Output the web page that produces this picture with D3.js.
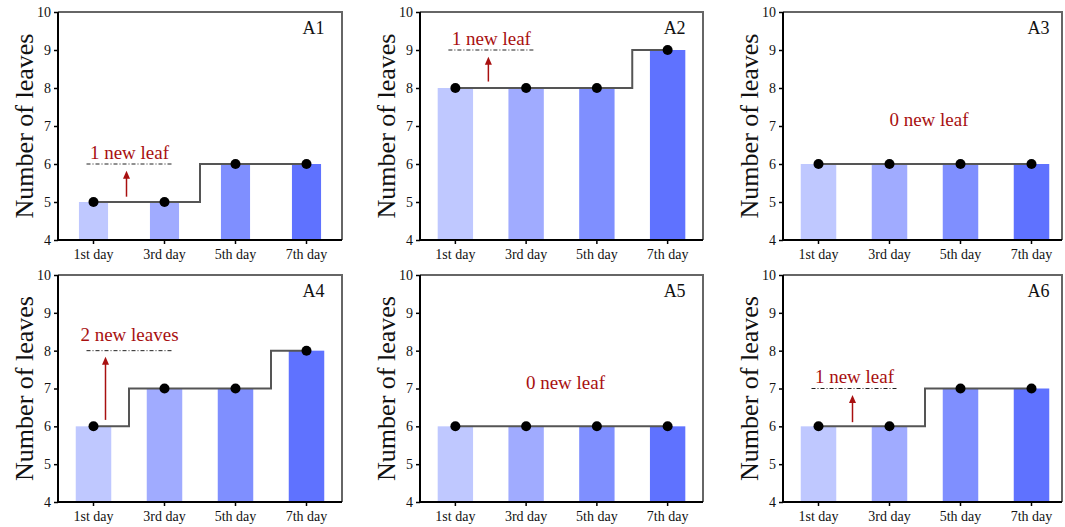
<!DOCTYPE html>
<html lang="en">
<head>
    <meta charset="UTF-8">
    <title>Number of leaves, A1-A6</title>
    <script src="https://d3js.org/d3.v7.min.js"></script>
    <style>
        body { margin: 0; background: #fff; }
        svg { display: block; font-family: "Liberation Serif", "Times New Roman", serif; }
        .tick text { font-size: 14px; fill: #111; font-family: "Liberation Serif", "Times New Roman", serif; }
    </style>
</head>
<body>
    <svg id="chart" width="1065" height="527"></svg>

    <script>
        // ---- data ----
        const days = ["1st day", "3rd day", "5th day", "7th day"];
        const panelNames = ["A1", "A2", "A3", "A4", "A5", "A6"];
        const leavesA1 = [5, 5, 6, 6];
        const leavesA2 = [8, 8, 8, 9];
        const leavesA3 = [6, 6, 6, 6];
        const leavesA4 = [6, 7, 7, 8];
        const leavesA5 = [6, 6, 6, 6];
        const leavesA6 = [6, 6, 7, 7];
        const leaves = [leavesA1, leavesA2, leavesA3, leavesA4, leavesA5, leavesA6];
        const notes = ["1 new leaf", "1 new leaf", "0 new leaf", "2 new leaves", "0 new leaf", "1 new leaf"];
        // arrow start / end in leaf units (null = no arrow)
        const arrowFrom = [5.14, 8.17, null, 6.17, null, 6.11];
        const arrowTo = [5.82, 8.82, null, 7.84, null, 6.83];
        const yTicks = [4, 5, 6, 7, 8, 9, 10];
        const barColors = ["#bfc8ff", "#a0abff", "#7f8fff", "#5f72ff"];

        // ---- layout ----
        const colLeft = [58, 420, 783];
        const colWidth = [284, 283, 284];
        const frameWidth = [284, 283, 279];
        const rowTop = [12, 275];
        const rowHeight = [228, 227];
        const barFrac = [0.41, 0.5, 0.5, 0.5, 0.5, 0.5];
        const arrowDx = [33, 33, 0, 12, 0, 34];
        const noteGap = [5, 5, 0, 10, 0, 6];
        const red = "#a81010";

        const svg = d3.select("#chart");

        panelNames.forEach((name, i) => {
            const col = i % 3, row = Math.floor(i / 3);
            const w = colWidth[col], h = rowHeight[row], fw = frameWidth[col];
            const g = svg.append("g").attr("transform", `translate(${colLeft[col]},${rowTop[row]})`);

            const x = d3.scaleBand().domain(days).range([0, w]).padding(0);
            const y = d3.scaleLinear().domain([4, 10]).range([h, 0]);
            const bw = x.bandwidth() * barFrac[i];
            const cx = d => x(d) + x.bandwidth() / 2;
            const vals = days.map((d, k) => ({ day: d, v: leaves[i][k], c: barColors[k] }));

            // bars
            g.selectAll(".bar").data(vals).join("rect")
                .attr("x", d => cx(d.day) - bw / 2)
                .attr("y", d => y(d.v))
                .attr("width", bw)
                .attr("height", d => h - y(d.v))
                .attr("fill", d => d.c);

            // top/right frame
            g.append("path")
                .attr("d", `M0,0H${fw}V${h}`)
                .attr("fill", "none").attr("stroke", "#666").attr("stroke-width", 2);

            // axes
            const yAxis = g.append("g")
                .call(d3.axisLeft(y).tickValues(yTicks).tickFormat(d3.format("d"))
                    .tickSize(4).tickSizeOuter(0).tickPadding(3));
            const xAxis = g.append("g").attr("transform", `translate(0,${h})`)
                .call(d3.axisBottom(x).tickSize(4).tickSizeOuter(0).tickPadding(5));
            [yAxis, xAxis].forEach(a => {
                a.attr("font-family", null).attr("font-size", null);
                a.select(".domain").attr("stroke", "#000").attr("stroke-width", 2);
                a.selectAll(".tick line").attr("stroke", "#000").attr("stroke-width", 1.5);
            });
            xAxis.select(".domain").attr("d", `M0,0H${fw}`);
            yAxis.select(".domain").attr("d", `M0,0V${h + 1}`);

            // step line
            const line = d3.line().x(d => cx(d.day)).y(d => y(d.v)).curve(d3.curveStep);
            g.append("path").datum(vals)
                .attr("d", line)
                .attr("fill", "none").attr("stroke", "#555").attr("stroke-width", 2);

            // dots
            g.selectAll(".dot").data(vals).join("circle")
                .attr("cx", d => cx(d.day))
                .attr("cy", d => y(d.v))
                .attr("r", 5)
                .attr("fill", "#000");

            // panel label
            g.append("text")
                .attr("x", cx(days[3]) + 18)
                .attr("y", 22)
                .attr("text-anchor", "end")
                .attr("font-size", 18)
                .attr("fill", "#111")
                .text(name);

            // y axis title
            g.append("text")
                .attr("transform", `translate(-25,${h / 2}) rotate(-90)`)
                .attr("text-anchor", "middle")
                .attr("font-size", 26)
                .attr("fill", "#111")
                .text("Number of leaves");

            // annotation
            const last = leaves[i][3];
            const first = leaves[i][0];
            if (last === first) {
                g.append("text")
                    .attr("x", (cx(days[1]) + cx(days[2])) / 2 + 4)
                    .attr("y", y(last + 1))
                    .attr("text-anchor", "middle")
                    .attr("font-size", 19)
                    .attr("fill", red)
                    .text(notes[i]);
            } else {
                const x0 = cx(days[0]);
                g.append("line")
                    .attr("x1", x0 - 7).attr("x2", x0 + 79)
                    .attr("y1", y(last)).attr("y2", y(last))
                    .attr("stroke", "#222").attr("stroke-width", 1)
                    .attr("stroke-dasharray", "4,2,1,2");
                g.append("text")
                    .attr("x", x0 + 36)
                    .attr("y", y(last) - noteGap[i])
                    .attr("text-anchor", "middle")
                    .attr("font-size", 19)
                    .attr("fill", red)
                    .text(notes[i]);
                const ax = x0 + arrowDx[i];
                const yb = y(arrowFrom[i]), yt = y(arrowTo[i]);
                g.append("line")
                    .attr("x1", ax).attr("x2", ax)
                    .attr("y1", yb).attr("y2", yt + 6)
                    .attr("stroke", red).attr("stroke-width", 1.5);
                g.append("path")
                    .attr("d", `M${ax},${yt}L${ax - 3.5},${yt + 8}L${ax + 3.5},${yt + 8}Z`)
                    .attr("fill", red);
            }
        });
    </script>
</body>
</html>
